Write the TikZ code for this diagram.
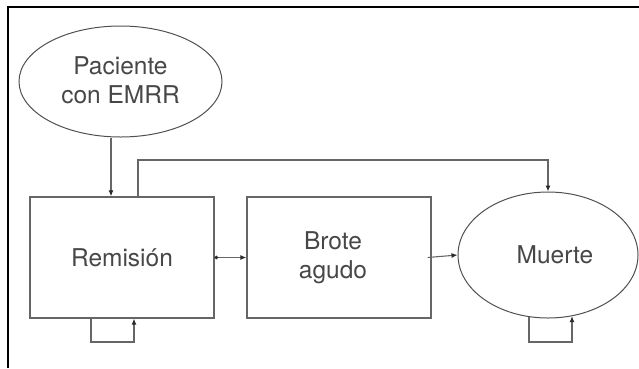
\documentclass[tikz,border=0pt]{standalone}
\usepackage{fontspec}
\setmainfont{TeX Gyre Heros}
\usetikzlibrary{arrows.meta,shapes.geometric}
\definecolor{linegray}{HTML}{666666}
\definecolor{ovalgray}{HTML}{505050}
\definecolor{txtgray}{HTML}{474747}
\definecolor{tipgray}{HTML}{2A2A2A}
\begin{document}
\begin{tikzpicture}[x=1pt,y=-1pt,
  every node/.style={font=\fontsize{24.5}{29}\selectfont, text=txtgray, align=center},
  statebox/.style={draw=linegray, line width=1.3pt, minimum width=184pt,
    minimum height=121pt, inner sep=0pt},
  stateoval/.style={draw=ovalgray, line width=1pt, ellipse, inner sep=0pt},
  link/.style={draw=linegray, line width=1.1pt,
    -{Latex[length=6pt,width=5pt,color=tipgray]}},
]
\useasboundingbox (0,0) rectangle (639,368);
% frame
\draw[black, line width=1.2pt] (8,368) -- (8,7) -- (639,7);

% states
\node[stateoval, minimum width=203pt, minimum height=111pt] (pac) at (120.5,81.5)
  {\raisebox{3pt}{Paciente}\\\raisebox{3pt}{con EMRR}};
\node[statebox] (rem) at (122,257.5) {Remisión};
\node[statebox] (bro) at (339,257.5) {\hspace*{-12pt}Brote\\\hspace*{-12pt}agudo};
\node[stateoval, minimum width=180pt, minimum height=126pt] (mue) at (548,255)
  {\hspace*{14pt}Muerte};

% helper coordinates for the routed links
\coordinate (a1) at (111,0);
\coordinate (bend) at (138,160);
\coordinate (l1) at (91,342);
\coordinate (l2) at (134,342);
\coordinate (l3) at (529,342);
\coordinate (l4) at (572,342);

% transitions
\draw[link] (a1 |- pac.south) -- (a1 |- rem.north);
\draw[link] (bend |- rem.north) -- (bend) -| (mue.north);
\draw[link, {Circle[length=3.5pt,color=tipgray]}-{Latex[length=6pt,width=5pt,color=tipgray]}]
  (rem.east) -- (bro.west);
\draw[link] ([xshift=-4pt]bro.east) -- (mue.west);
\draw[link] (l1 |- rem.south) -- (l1) -- (l2) -- (l2 |- rem.south);
\draw[link] (l3 |- mue.253) -- (l3) -- (l4) -- (l4 |- mue.292);
\end{tikzpicture}
\end{document}
